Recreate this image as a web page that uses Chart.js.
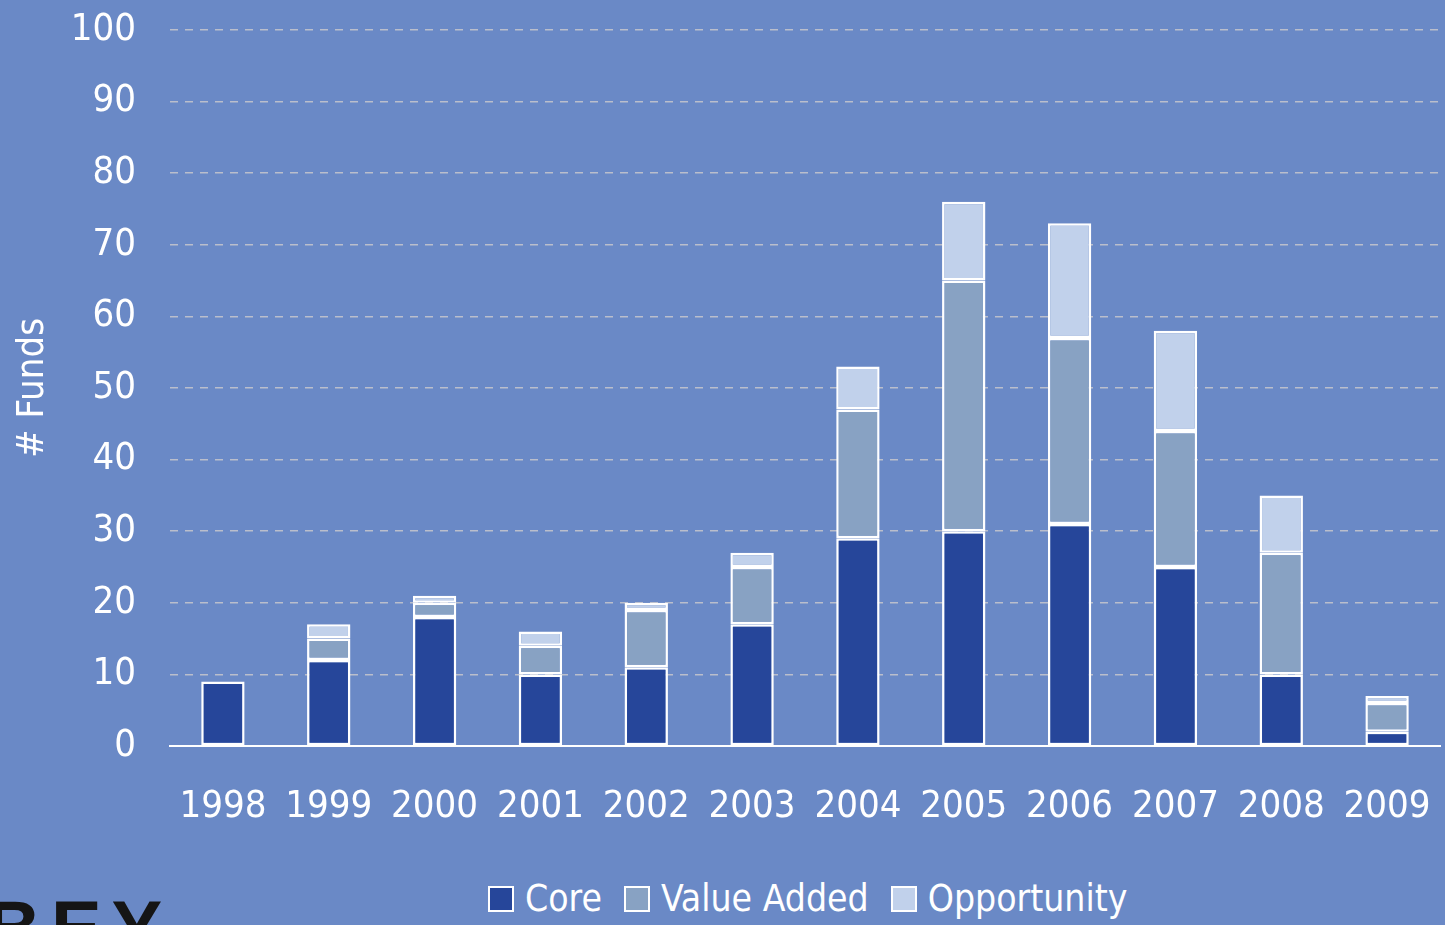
<!DOCTYPE html>
<html>
<head>
<meta charset="utf-8">
<script src="https://cdn.jsdelivr.net/npm/chart.js@4.4.1/dist/chart.umd.min.js"></script>
<style>
  html, body { margin: 0; padding: 0; width: 1445px; height: 925px; overflow: hidden; background: #6a89c6; }
  #wrap { position: absolute; left: 0; top: 0; width: 1445px; height: 860px; }
  #legend { position: absolute; left: 488px; top: 877px; display: flex; justify-content: flex-start; align-items: center;
            font-family: "Liberation Sans Narrow", "DejaVu Sans Condensed", sans-serif; font-size: 37px; color: #fff; white-space: nowrap; }
  .item { display: flex; align-items: center; margin-right: 22px; }
  .box { width: 22px; height: 22px; border: 2px solid #fff; margin-right: 11px; }
  #logo { position: absolute; left: -14px; top: 890px; font-family: "Liberation Sans", Arial, sans-serif; font-weight: bold;
          font-size: 76px; color: #151515; letter-spacing: 10px; line-height: 1; }
</style>
</head>
<body>
<div id="wrap"><canvas id="c" width="1445" height="860"></canvas></div>
<div id="logo">BEY</div>
<div id="legend"></div>
<script>
const years = ["1998","1999","2000","2001","2002","2003","2004","2005","2006","2007","2008","2009"];
const core = [9, 12, 18, 10, 11, 17, 29, 30, 31, 25, 10, 2];
const valueAdded = [0, 3, 2, 4, 8, 8, 18, 35, 26, 19, 17, 4];
const opportunity = [0, 2, 1, 2, 1, 2, 6, 11, 16, 14, 8, 1];
const seriesNames = ["Core", "Value Added", "Opportunity"];
const seriesColors = ["#26469a", "#88a2c3", "#c1d1eb"];
const yTicks = [0, 10, 20, 30, 40, 50, 60, 70, 80, 90, 100];

const FONT = '"Liberation Sans Narrow", "DejaVu Sans Condensed", sans-serif';
const seriesData = [core, valueAdded, opportunity];

const ctx = document.getElementById('c').getContext('2d');
new Chart(ctx, {
  type: 'bar',
  data: {
    labels: years,
    datasets: seriesData.map((d, i) => ({
      label: seriesNames[i],
      data: d,
      backgroundColor: seriesColors[i],
      borderColor: '#ffffff',
      borderWidth: 2.5,
      borderSkipped: false,
      categoryPercentage: 1,
      barPercentage: 0.41
    }))
  },
  options: {
    responsive: false,
    animation: false,
    layout: { padding: { top: 30, right: 5, left: 0, bottom: 0 } },
    plugins: { legend: { display: false }, tooltip: { enabled: false } },
    scales: {
      x: {
        stacked: true,
        afterFit: (s) => { s.paddingLeft = 0; s.paddingRight = 0; s.height = 114; },
        grid: { display: false, drawTicks: false },
        border: { display: true, color: '#ffffff', width: 2 },
        ticks: { color: '#ffffff', font: { family: FONT, size: 38 }, padding: 38, maxRotation: 0 }
      },
      y: {
        stacked: true,
        min: 0, max: 100,
        afterFit: (s) => { s.width = 170; s.paddingTop = 0; s.paddingBottom = 0; },
        afterBuildTicks: (s) => { s.ticks = yTicks.map(v => ({ value: v })); },
        grid: { color: 'rgba(200,200,205,0.85)', lineWidth: 1.5, drawTicks: false },
        border: { display: false, dash: [8, 7] },
        ticks: { color: '#ffffff', font: { family: FONT, size: 38 }, padding: 34 },
        title: { display: true, text: '# Funds', color: '#ffffff', font: { family: FONT, size: 38 }, padding: { top: 10, bottom: 0 } }
      }
    }
  }
});

const legend = document.getElementById('legend');
seriesNames.forEach((n, i) => {
  const it = document.createElement('div');
  it.className = 'item';
  const b = document.createElement('div');
  b.className = 'box';
  b.style.background = seriesColors[i];
  const t = document.createElement('span');
  t.textContent = n;
  it.appendChild(b); it.appendChild(t);
  legend.appendChild(it);
});
</script>
</body>
</html>
